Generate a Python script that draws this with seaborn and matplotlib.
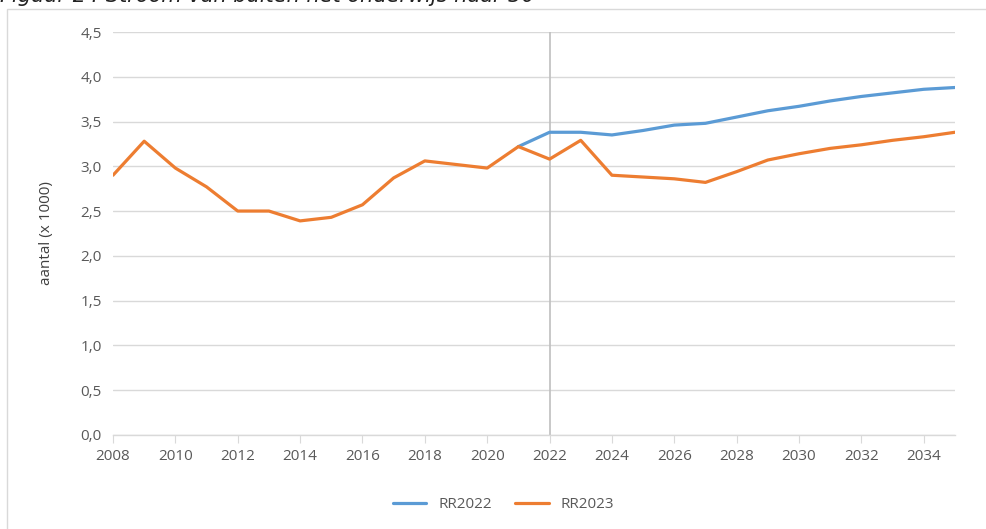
import numpy as np
import pandas as pd
import matplotlib.pyplot as plt
import seaborn as sns
from matplotlib.patches import Rectangle

# Data (aantal x 1000)
years_2023 = list(range(2008, 2036))
rr2023 = [2.90, 3.28, 2.98, 2.77, 2.50, 2.50, 2.39, 2.43, 2.57, 2.87,
          3.06, 3.02, 2.98, 3.22, 3.08, 3.29, 2.90, 2.88, 2.86, 2.82,
          2.94, 3.07, 3.14, 3.20, 3.24, 3.29, 3.33, 3.38]
years_2022 = list(range(2021, 2036))
rr2022 = [3.22, 3.38, 3.38, 3.35, 3.40, 3.46, 3.48, 3.55, 3.62, 3.67,
          3.73, 3.78, 3.82, 3.86, 3.88]

df = pd.concat([
    pd.DataFrame({'jaar': years_2022, 'aantal': rr2022, 'reeks': 'RR2022'}),
    pd.DataFrame({'jaar': years_2023, 'aantal': rr2023, 'reeks': 'RR2023'}),
])

sns.set_style('white')
plt.rcParams['font.family'] = ['Open Sans', 'DejaVu Sans']

fig = plt.figure(figsize=(9.87, 5.29), dpi=100)
ax = fig.add_axes([0.1145, 0.178, 0.853, 0.7615])

# Chart border (Excel style)
fig.patches.append(Rectangle((7 / 987, -0.1), 1.2, 1 - 9 / 529 + 0.1,
                             transform=fig.transFigure, fill=False,
                             edgecolor='#d9d9d9', lw=1))

sns.lineplot(data=df, x='jaar', y='aantal', hue='reeks', ax=ax,
             palette={'RR2022': '#5B9BD5', 'RR2023': '#ED7D31'},
             linewidth=2.3, legend=True)

ax.set_xlim(2008, 2035)
ax.set_ylim(0, 4.5)
ax.set_xticks(range(2008, 2035, 2))
ax.set_yticks(np.arange(0, 4.51, 0.5))
ax.set_yticklabels([f'{v:.1f}'.replace('.', ',') for v in np.arange(0, 4.51, 0.5)])
ax.yaxis.grid(True, color='#d9d9d9', lw=1)
ax.set_axisbelow(True)
ax.axvline(2022, color='#bfbfbf', lw=1.2, zorder=1)

for s in ['top', 'right', 'left']:
    ax.spines[s].set_visible(False)
ax.spines['bottom'].set_color('#d9d9d9')
ax.spines['bottom'].set_linewidth(1)
ax.tick_params(axis='x', length=6, color='#d9d9d9', labelcolor='#595959',
               labelsize=11, pad=4, bottom=True)
ax.tick_params(axis='y', length=0, labelcolor='#595959', labelsize=11, pad=8)

ax.set_xlabel('')
ax.set_ylabel('aantal (x 1000)', fontsize=11, color='#404040')
ax.yaxis.set_label_coords(-0.07, 0.5)

ax.legend(loc='center', bbox_to_anchor=(0.51, 24 / 529), bbox_transform=fig.transFigure,
          ncol=2, frameon=False, fontsize=11, handlelength=2.2, columnspacing=1.5,
          labelcolor='#595959')

fig.text(0.0, 1 - 2 / 529, 'Figuur 24 Stroom van buiten het onderwijs naar 30',
         fontsize=15, style='italic', va='baseline', ha='left', color='#222222',
         family='DejaVu Sans')

fig.savefig('out.png', dpi=100)
